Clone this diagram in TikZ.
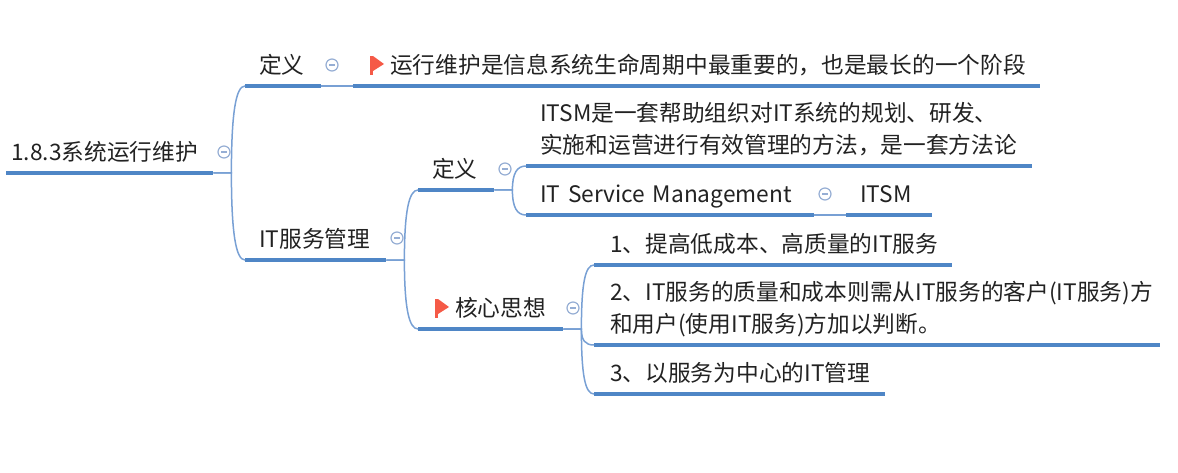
\documentclass[tikz,border=0pt]{standalone}
\usepackage{fontspec}
\setmainfont{Noto Sans CJK SC}
\usetikzlibrary{calc}
\definecolor{bar-blue}{RGB}{79,134,198}
\definecolor{link-blue}{RGB}{120,160,212}
\definecolor{fold-blue}{RGB}{150,174,212}
\definecolor{flag-red}{RGB}{245,90,71}
\definecolor{ink}{RGB}{34,34,34}

\tikzset{
    topic/.style 2 args={anchor=south west, inner ysep=0pt, inner xsep=#2pt, text width=#1pt-2*#2pt, align=left,
        text height=17pt, text depth=12.5pt, text=ink, font=\fontsize{22.7}{32}\selectfont},
    twolines/.style={text depth=44.5pt},
    bar/.style={bar-blue, line width=3.6pt},
    link/.style={link-blue, line width=1.5pt},
    fold/.style={circle, draw=fold-blue, line width=1.2pt, fill=white, inner sep=0pt, minimum size=12pt,
        path picture={\draw[fold-blue, line width=1.1pt] (-3pt,0) -- (3pt,0);}},
    redflag/.pic={
        \fill[flag-red] (0,0) rectangle (3,19);
        \fill[flag-red] (3,19) -- (14,11) -- (3,4) -- cycle;
    }
}

% forked curve from the end of one bar to the start of another
\newcommand{\bough}[2]{
    \draw[link] (#1.south east) -- ++(18,0) coordinate (fork)
        .. controls ($(fork)!0.7!(fork |- #2.south west)$) and ($(#2.south west)+(-9,0)$) .. (#2.south west);
}

\begin{document}
\begin{tikzpicture}[x=1pt, y=1pt]
    \useasboundingbox (0,0) rectangle (1178,472);

    % Topics
    \node[topic={207}{5}] (root) at (6,299) {1.8.3系统运行维护};
    \node[topic={76}{14}] (def) at (245,386) {定义};
    \node[topic={687}{14}] (deftext) at (353,386) {\hspace*{23pt}运行维护是信息系统生命周期中最重要的，也是最长的一个阶段};
    \node[topic={141}{14}] (itsvc) at (245,212) {IT服务管理};
    \node[topic={76}{14}] (itdef) at (418,282) {定义};
    \node[topic={506}{14}, twolines] (itsmtext) at (526,306) {ITSM是一套帮助组织对IT系统的规划、研发、\\实施和运营进行有效管理的方法，是一套方法论};
    \node[topic={288}{14}] (service) at (526,257) {IT Service Management};
    \node[topic={86}{14}] (itsm) at (846,257) {ITSM};
    \node[topic={145}{14}] (core) at (418,143) {\hspace*{23pt}核心思想};
    \node[topic={358}{16}] (first) at (594,207) {1、提高低成本、高质量的IT服务};
    \node[topic={566}{16}, twolines] (second) at (594,127) {2、IT服务的质量和成本则需从IT服务的客户(IT服务)方\\和用户(使用IT服务)方加以判断。};
    \node[topic={291}{16}] (third) at (594,78) {3、以服务为中心的IT管理};

    % Bars under the topics
    \foreach \n in {root,def,deftext,itsvc,itdef,itsmtext,service,itsm,core,first,second,third}
        \draw[bar] (\n.south west) -- (\n.south east);

    % Connections
    \bough{root}{def}
    \bough{root}{itsvc}
    \bough{itsvc}{itdef}
    \bough{itsvc}{core}
    \bough{itdef}{itsmtext}
    \bough{itdef}{service}
    \bough{core}{first}
    \bough{core}{second}
    \bough{core}{third}
    \draw[link] (def.south east) -- (deftext.south west);
    \draw[link] (service.south east) -- (itsm.south west);

    % Fold marks
    \node[fold] (foldroot) at (224,320) {};
    \node[fold] (folddef) at (332,407) {};
    \node[fold] (foldsvc) at (397,234) {};
    \node[fold] (folditdef) at (505,303) {};
    \node[fold] (foldservice) at (825,278) {};
    \node[fold] (foldcore) at (573,164) {};

    % Flags
    \pic at (370,397) {redflag};
    \pic at (435,154) {redflag};
\end{tikzpicture}
\end{document}
